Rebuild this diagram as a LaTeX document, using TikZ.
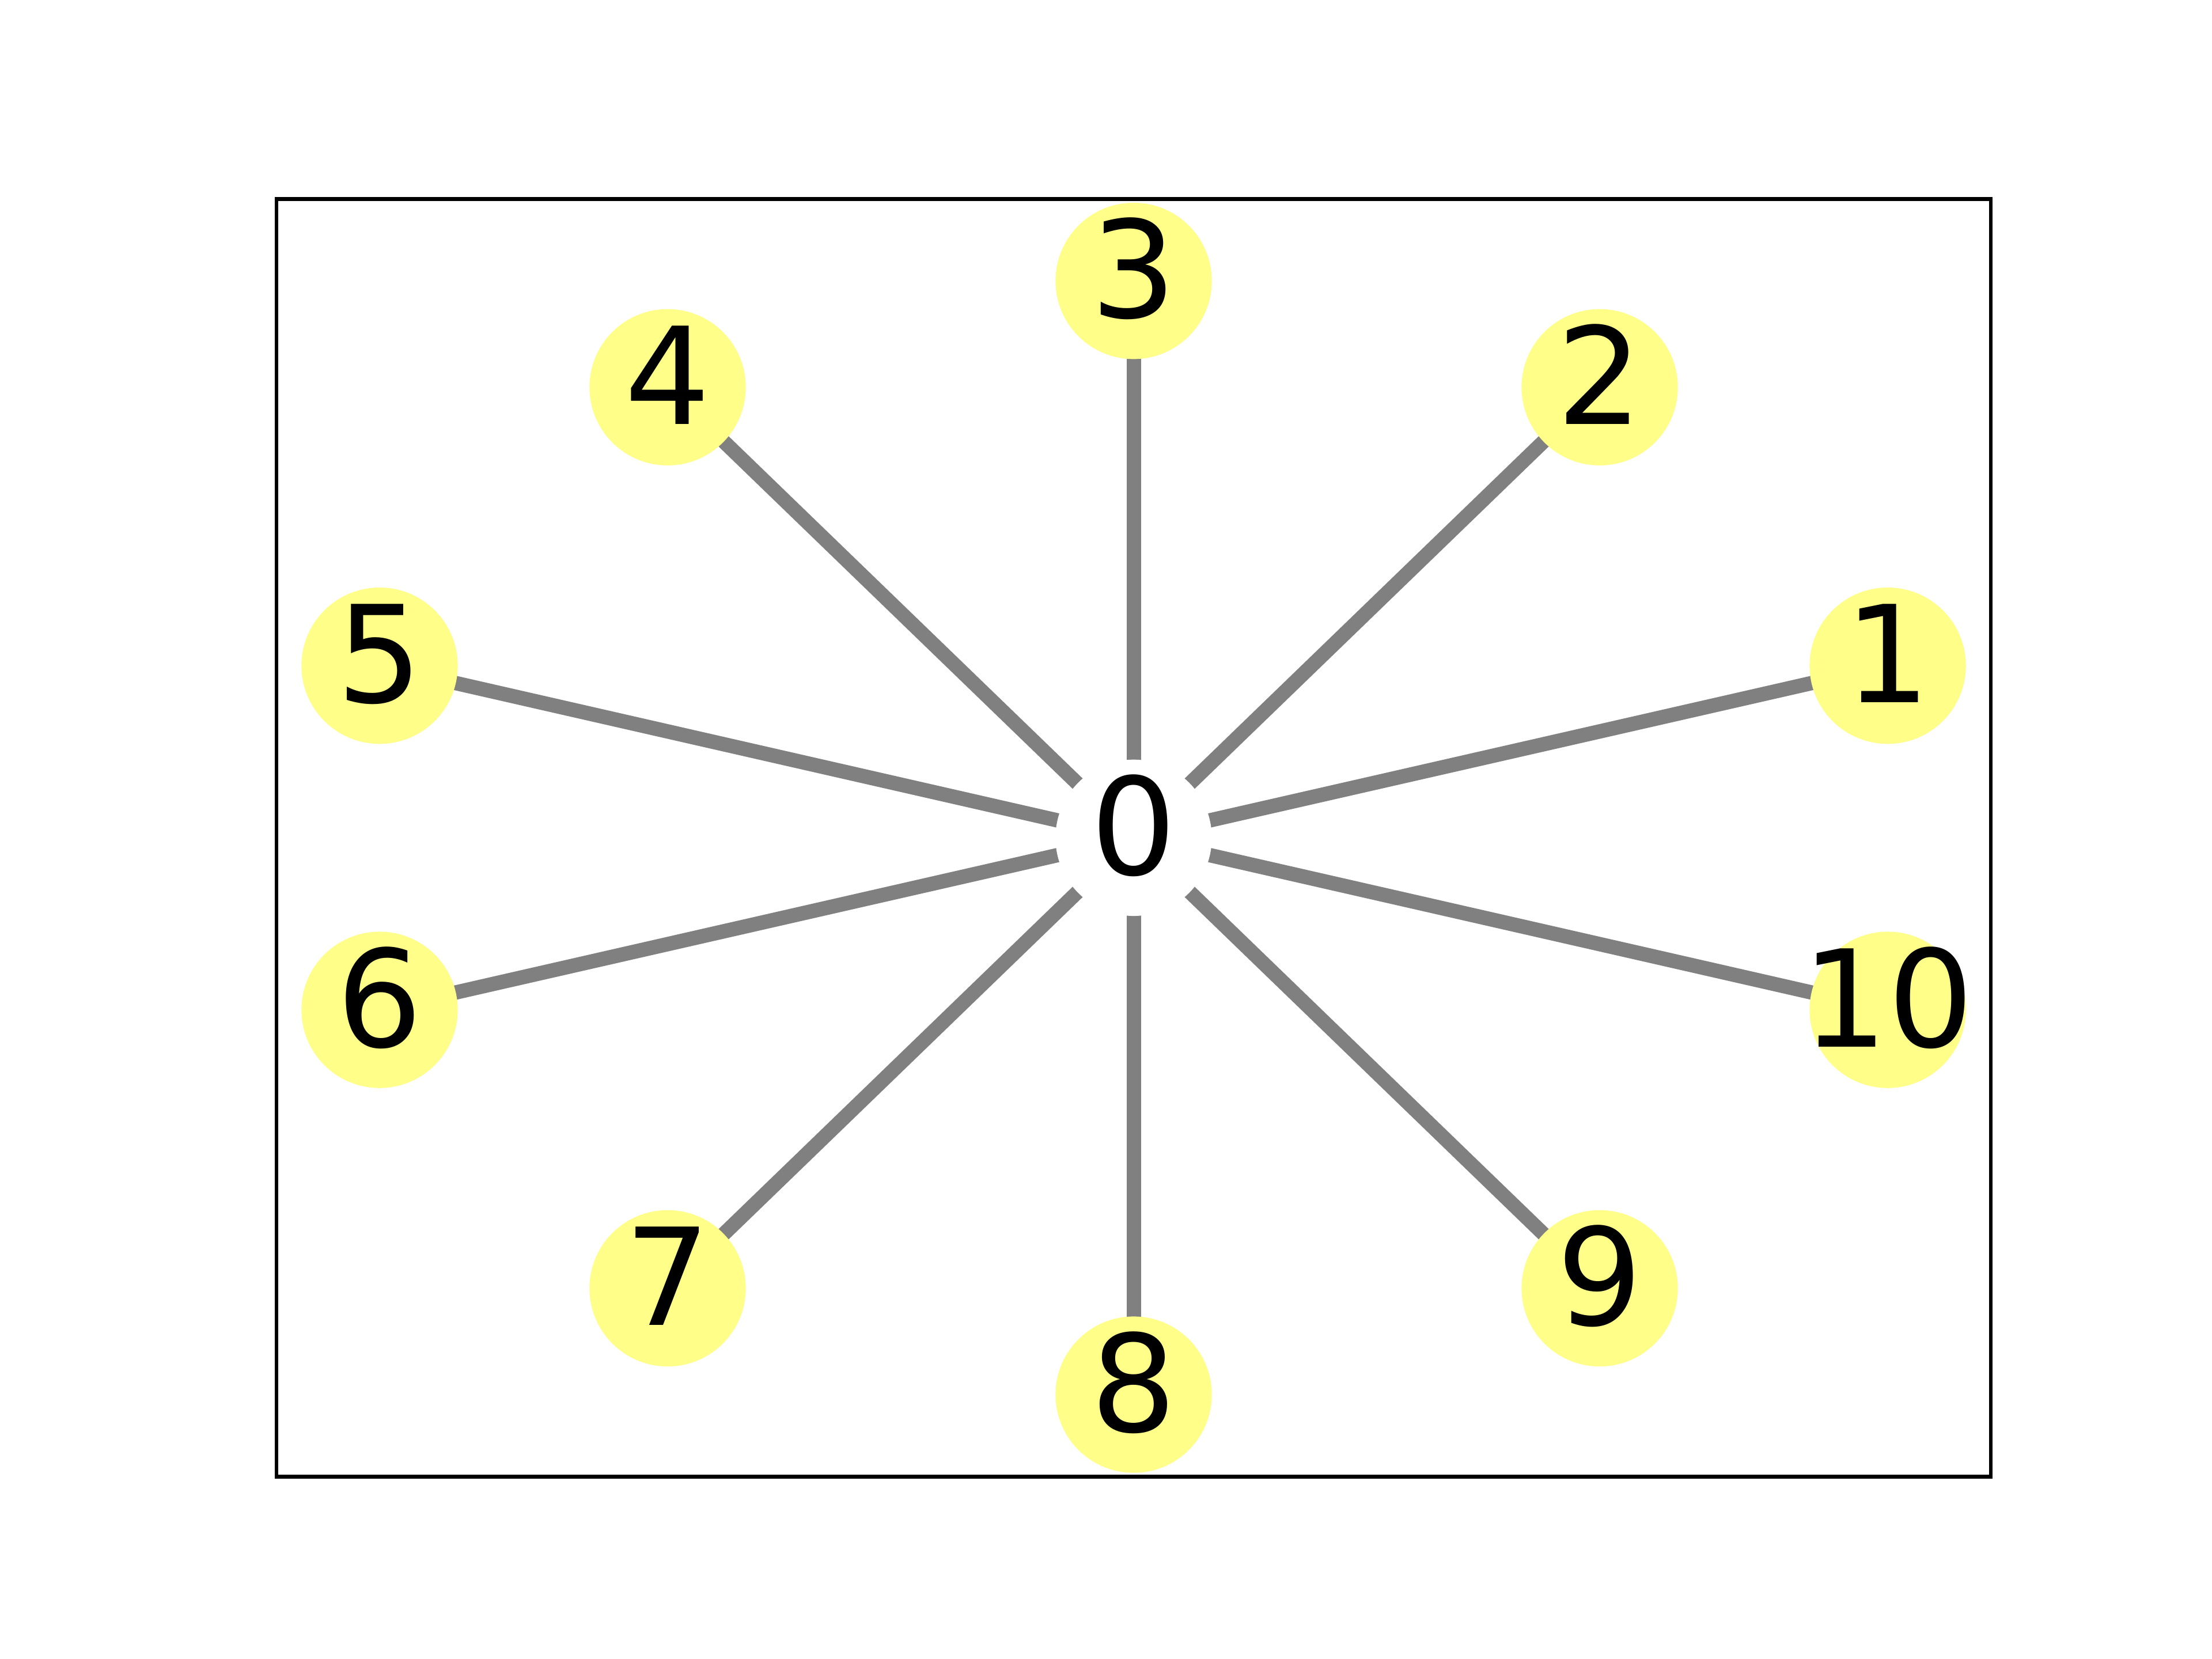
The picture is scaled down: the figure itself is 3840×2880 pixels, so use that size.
\documentclass[tikz,border=0pt]{standalone}
\usepackage{fontspec}
\setmainfont{DejaVu Sans}
\usetikzlibrary{backgrounds}
\definecolor{nodeyellow}{RGB}{255,254,136}
\definecolor{edgegray}{RGB}{128,128,128}
\tikzset{
  vtx/.style={circle, fill=nodeyellow, draw=none, inner sep=0pt, minimum size=32.56pt},
  hub/.style={circle, fill=white, draw=none, inner sep=0pt, minimum size=32.56pt},
  lbl/.style={anchor=base, inner sep=0pt, font=\fontsize{28.1}{30}\selectfont, text=black},
  edge/.style={draw=edgegray, line width=3pt},
  frame/.style={draw=black, line width=0.8pt}
}
\begin{document}
\begin{tikzpicture}[x=0.12pt,y=-0.12pt]
\useasboundingbox (0,0) rectangle (3840,2880);
\draw[frame] (480,345.6) rectangle (3456,2563.2);
% hub
\node[hub] (n0) at (1968,1454.4) {};
% outer nodes
\foreach \k in {1,...,10}{
  \node[vtx] (n\k) at ({1968+1376.4*cos(18+36*(\k-1))},{1454.4-966.7*sin(18+36*(\k-1))}) {};
}
% labels
\foreach \k in {0,...,10}{
  \node[lbl] (t\k) at ([yshift=-7.7pt]n\k.center) {\k};
}
% edges
\begin{scope}[on background layer]
\foreach \k in {1,...,10}{
  \draw[edge] (n0.center) -- (n\k.center);
}
\end{scope}
\end{tikzpicture}
\end{document}
